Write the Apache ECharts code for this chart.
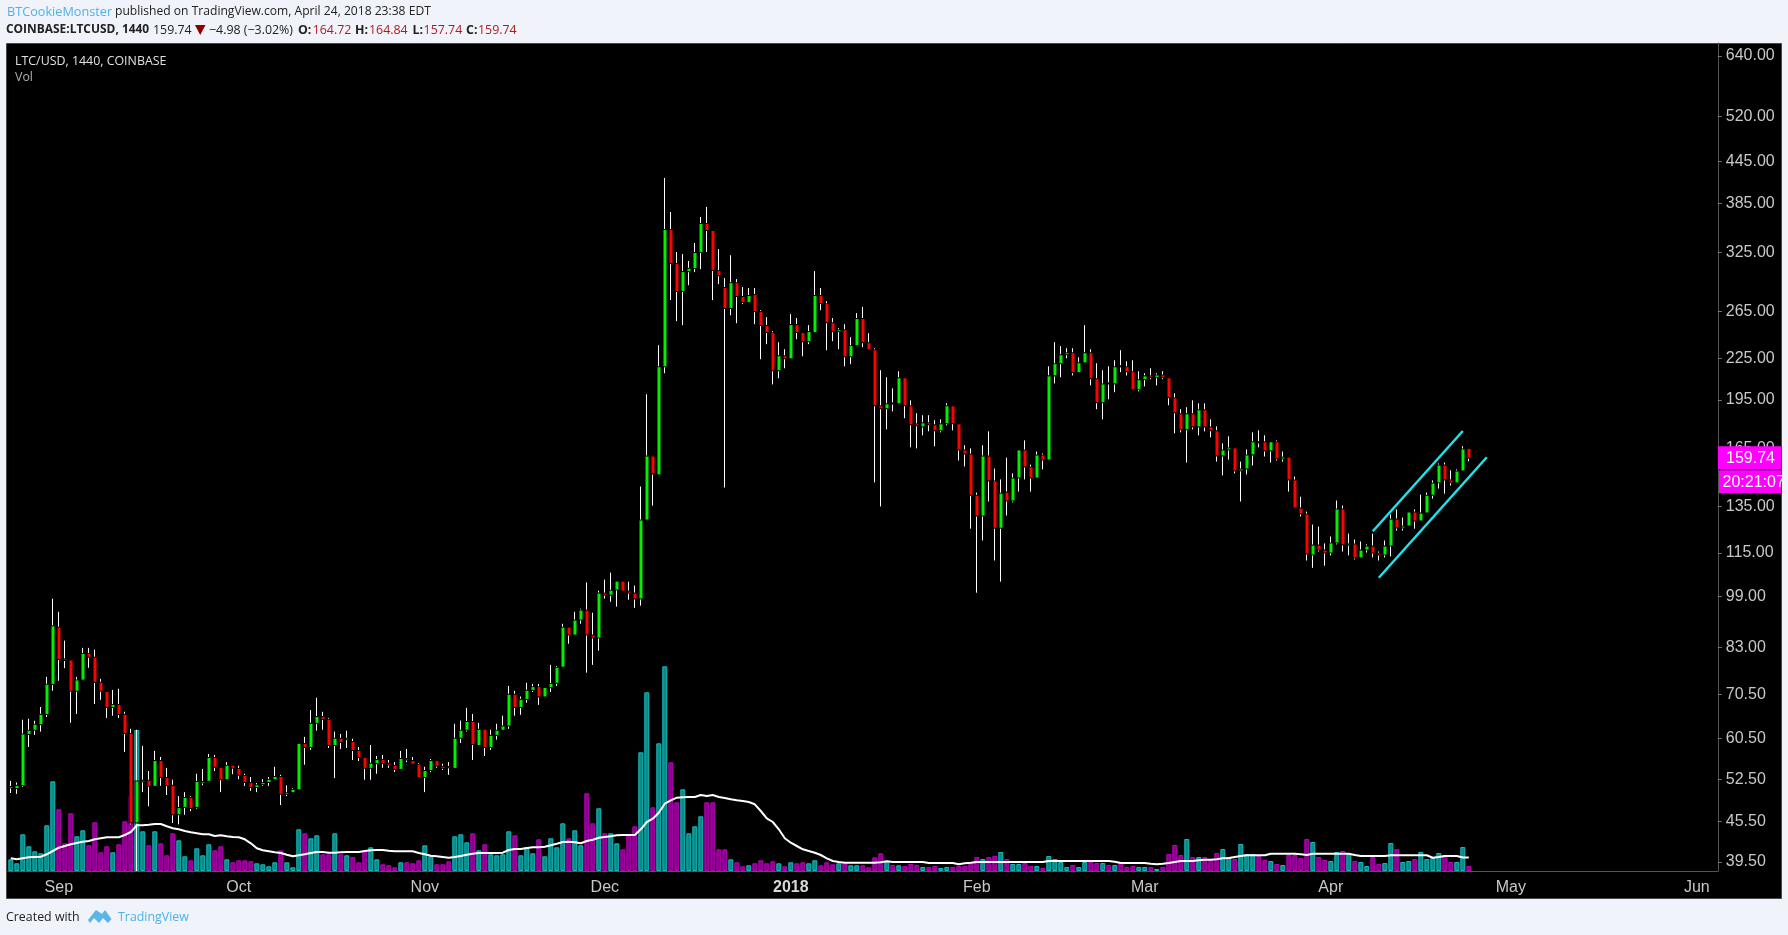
<!DOCTYPE html>
<html><head><meta charset="utf-8">
<style>html,body{margin:0;padding:0;background:#f0f3fa}#c{width:1788px;height:935px}</style>
<script src="https://cdn.jsdelivr.net/npm/echarts@6/dist/echarts.min.js"></script>
</head><body><div id="c"></div>
<script>
// Daily candles, [open, close, low, high], 24 Aug 2017 .. 24 Apr 2018
const ohlc = [
[51.1,51.2,50.15,52.28],[51.0,51.4,50.0,52.0],[51.5,61.4,51.2,64.6],[61.5,62.2,58.8,64.8],[62.4,63.5,61.3,64.35],[63.6,65.7,62.0,67.5],[65.9,72.9,65.2,74.9],[73.1,89.2,71.4,98.1],
[88.8,79.7,73.9,93.8],[79.6,79.4,77.2,84.9],[79.3,71.4,63.9,79.3],[71.4,74.0,65.9,74.9],[74.2,81.1,74.2,82.8],[81.1,80.3,77.3,82.8],[80.0,73.6,68.2,82.3],[73.4,71.4,69.2,74.4],
[71.1,67.5,65.0,71.1],[67.5,68.0,65.5,71.6],[68.0,65.9,65.0,71.9],[65.7,61.7,57.8,66.4],[61.5,45.3,45.0,62.6],[45.3,52.2,38.3,62.4],[52.2,52.3,50.3,59.0],[52.3,51.4,47.9,54.1],
[51.4,56.0,51.4,58.0],[56.0,53.0,51.4,56.8],[52.8,51.5,49.8,54.7],[51.4,46.6,45.2,52.5],[46.6,47.6,45.0,49.6],[47.8,49.3,46.5,50.3],[49.3,47.6,47.1,49.6],[47.8,52.1,47.5,53.6],
[52.0,52.1,51.5,54.5],[52.3,56.6,52.3,57.4],[56.6,54.9,54.1,57.2],[54.7,52.6,50.3,54.7],[52.6,55.1,52.6,55.8],[55.1,54.7,53.5,55.1],[54.5,53.4,52.6,55.1],[53.2,52.1,51.4,53.6],
[51.9,51.2,50.5,53.0],[51.2,51.5,50.3,51.9],[51.7,51.9,51.4,52.6],[52.1,52.5,51.4,53.0],[52.6,53.0,52.6,54.9],[53.0,50.0,48.1,53.4],[50.0,50.1,49.6,51.5],[50.3,50.7,50.3,51.0],
[50.8,59.4,50.8,59.4],[59.4,58.8,55.3,60.9],[58.8,63.7,58.2,66.8],[63.9,65.2,62.2,69.7],[65.2,64.8,62.4,66.4],[64.6,59.2,58.6,65.0],[59.2,60.5,52.8,62.0],[60.5,59.8,58.4,61.5],
[60.4,60.5,58.6,62.2],[59.8,58.2,56.2,60.5],[58.0,56.8,56.0,58.8],[56.6,54.7,52.5,56.6],[54.7,55.5,52.5,59.2],[55.6,56.2,53.6,57.0],[56.2,55.6,54.7,57.2],[55.5,55.3,54.7,56.2],
[55.1,54.5,53.9,55.8],[54.5,56.4,54.5,58.0],[56.4,56.3,55.8,58.4],[56.0,55.5,55.3,56.8],[55.3,53.0,53.0,55.6],[53.0,54.1,50.3,54.9],[54.3,56.0,53.9,56.4],[56.0,55.1,54.7,56.0],
[54.9,54.7,54.3,55.5],[54.9,54.8,53.4,55.8],[54.7,60.5,54.7,63.7],[60.7,62.2,59.6,64.4],[62.4,64.1,62.0,67.3],[64.1,59.4,56.2,65.9],[59.2,62.4,59.2,63.9],[62.4,58.8,57.0,62.4],
[58.8,61.1,58.2,62.4],[61.3,62.2,60.3,63.7],[62.4,63.1,62.4,65.5],[63.3,70.4,62.6,72.6],[70.4,67.5,65.5,71.4],[67.5,69.2,65.7,70.0],[69.4,71.4,68.5,73.4],[71.6,72.3,71.1,73.1],
[72.3,70.0,68.0,73.1],[70.0,72.1,70.0,72.1],[72.3,73.1,71.1,78.1],[73.4,77.3,72.6,77.8],[77.6,88.8,77.6,90.0],[88.8,86.7,84.0,88.8],[86.7,91.0,86.7,93.8],[91.3,94.2,90.0,94.8],
[94.2,86.7,76.0,103.8],[86.4,85.8,78.1,93.5],[85.8,99.9,82.0,100.9],[99.9,99.5,98.2,104.8],[99.5,100.9,97.1,107.4],[101.3,104.1,95.5,104.1],[104.1,100.9,100.9,104.1],[100.6,100.2,97.8,104.1],
[99.9,98.2,95.1,102.7],[98.2,128.6,95.8,144.6],[129.0,160.4,129.0,198.9],[160.4,151.3,135.4,160.4],[150.8,218.4,150.8,235.7],[219.1,350.9,213.9,420.1],[350.9,313.0,275.4,373.5],[311.9,284.1,256.1,325.1],
[284.1,303.4,252.6,322.8],[304.4,306.9,290.0,315.2],[307.6,324.0,303.4,335.5],[325.1,358.4,306.5,367.1],[358.4,350.9,325.1,380.0],[349.7,305.5,275.4,349.7],[304.4,300.2,291.0,328.5],[287.1,268.0,144.1,297.2],
[268.0,292.0,261.4,321.6],[292.0,279.3,254.3,296.1],[278.3,273.5,271.6,288.1],[273.5,279.3,273.5,287.1],[280.2,265.1,253.4,287.1],[264.2,252.6,224.5,266.0],[251.8,246.6,236.5,259.7],[245.7,216.1,205.8,247.4],
[216.1,226.8,210.2,238.1],[226.8,225.2,217.6,232.4],[225.2,252.6,225.2,262.4],[252.6,246.6,240.6,258.8],[245.7,239.0,226.8,245.7],[239.0,246.6,236.5,252.6],[246.6,279.3,246.6,304.4],[279.3,272.6,266.0,287.1],
[271.6,255.2,231.6,274.4],[254.3,247.4,239.0,258.8],[247.4,248.2,232.4,250.0],[248.2,226.8,219.1,253.4],[226.8,234.9,220.7,242.3],[235.7,257.9,235.7,263.3],[257.9,238.1,234.1,269.0],[237.3,232.4,232.4,245.7],
[231.6,191.5,146.7,233.2],[190.8,189.5,135.0,216.1],[189.5,192.1,176.2,211.0],[192.8,192.6,187.5,203.0],[192.8,210.2,192.8,215.4],[210.2,191.5,183.1,210.2],[190.8,179.3,165.6,194.8],[179.3,178.7,165.0,186.3],
[178.0,179.9,172.6,185.0],[179.9,179.3,175.0,185.0],[178.7,175.6,166.2,181.8],[175.6,179.3,174.4,182.4],[179.9,190.8,178.7,192.8],[190.8,179.9,175.6,190.8],[179.3,164.4,158.2,179.3],[163.8,162.1,155.0,166.8],
[161.6,140.6,125.0,165.0],[140.1,130.8,100.2,141.6],[130.8,160.4,120.0,166.8],[160.4,147.7,137.3,175.0],[147.2,125.4,112.0,153.9],[125.4,141.1,104.1,148.2],[141.6,137.8,130.8,159.8],[137.8,148.7,136.9,151.3],
[149.2,163.8,142.1,163.8],[163.8,155.0,148.2,169.6],[154.5,149.2,142.1,156.0],[149.2,161.0,149.2,163.2],[161.0,158.7,153.4,162.1],[158.7,211.6,158.7,219.1],[212.3,220.7,206.5,238.1],[221.4,227.6,211.0,234.9],
[228.4,229.2,225.2,233.2],[229.2,214.7,212.3,233.2],[214.7,221.4,214.7,226.0],[222.1,229.2,222.1,252.6],[229.2,210.2,205.1,232.4],[209.5,193.5,188.9,221.4],[193.5,205.8,182.4,216.1],[206.5,206.4,195.5,219.1],
[206.5,218.4,200.3,223.7],[219.1,219.0,214.7,231.6],[218.4,215.4,212.3,222.9],[214.7,202.3,202.3,223.7],[202.3,208.8,200.9,215.4],[209.5,211.6,204.4,213.9],[211.6,211.0,209.5,217.6],[211.0,212.3,205.1,213.9],
[212.3,211.0,209.5,215.4],[210.2,196.8,191.5,210.2],[196.1,186.9,173.8,199.6],[185.6,176.2,174.4,188.9],[176.2,185.6,157.1,190.2],[185.6,178.0,176.2,194.8],[178.0,188.2,172.6,192.8],[188.2,178.0,175.0,192.8],
[177.4,175.6,171.4,182.4],[175.0,161.0,157.6,178.0],[161.0,163.8,150.3,167.9],[164.4,165.0,158.7,172.0],[165.0,152.9,151.3,165.0],[152.9,153.4,137.3,157.6],[153.9,161.0,150.8,164.4],[161.6,168.5,155.5,174.4],
[168.5,168.4,165.6,175.6],[168.5,163.8,160.4,172.6],[163.8,168.5,157.1,168.5],[168.5,159.3,158.2,169.6],[159.3,159.8,157.6,163.2],[159.8,148.2,142.1,159.8],[147.7,134.5,134.5,149.7],[134.0,131.7,130.4,139.6],
[131.3,114.7,112.0,132.6],[114.3,117.9,109.2,126.8],[117.9,116.3,115.5,125.9],[115.9,115.1,110.0,118.8],[115.1,118.8,114.0,121.7],[119.2,133.6,118.4,137.8],[133.6,118.4,115.5,135.4],[118.3,118.4,114.0,122.9],
[118.4,113.2,112.4,120.4],[113.2,115.9,113.2,119.6],[116.3,117.5,115.1,118.4],[117.5,115.1,113.2,122.9],[114.7,114.3,112.0,115.5],[114.3,117.5,113.2,120.0],[117.9,129.0,113.6,131.3],[129.0,125.5,124.2,133.6],
[125.5,125.9,124.2,129.9],[126.4,132.2,126.4,132.2],[132.2,128.6,125.0,133.6],[128.6,131.7,128.6,140.6],[132.2,140.1,132.2,141.6],[140.6,146.1,138.7,147.7],[146.7,155.5,143.6,156.6],[155.5,148.2,141.1,157.1],
[147.7,146.7,145.1,152.9],[146.7,152.3,146.7,153.4],[152.9,164.4,152.9,166.2],[164.72,159.74,157.74,164.84]
];
// Volume, in units of 10k
const volumes = [
11.7,7.7,36.7,24.7,19.7,17.7,45.7,89.7,61.7,27.7,57.7,34.7,40.7,25.7,48.7,18.7,24.7,18.7,26.7,49.7,
75,141,39.7,25.7,39.7,27.7,15.7,37.7,30.7,14.7,10.7,22.7,15.7,26.7,20.7,24.7,11.7,8.7,10.7,10.7,
9.7,7.7,6.7,4.7,8.7,20.7,8.7,3.7,41.7,37.7,32.7,35.7,16.7,16.7,37.7,16.7,15.7,14,8.7,19.7,
23.7,11.7,6.7,5.7,3.7,8.7,8.7,7.7,10.7,25.7,14.7,6.7,6.7,9.7,34.7,36.7,28.7,37.7,20.7,26.7,
16.7,15.7,16.7,39.7,35.7,15.7,23.7,17.7,31.7,14.7,32.7,23.7,47.7,32.7,40.7,25.7,77.7,47.7,62.7,37.7,
37.7,27.7,21.7,35.7,44.7,118.7,178.7,63.7,127.7,204.7,108.7,68.7,81.7,37.7,44.7,54.7,68.7,68.7,21.7,21.7,
11.7,8.7,4.7,5.7,7.7,10.7,7.7,9.7,7.7,4.7,8.7,7.7,8.7,7.7,10.7,5.7,8.7,6.7,7.7,7.7,
5.7,5.7,5.7,3.7,13.7,17.7,10,6,5.7,5,7,6,4,4,5,3,4,4,5,5,
9,14,12,14,15,19,12,7,7,8,5,5,3,15,12,9,4,6,4,9,
9,8,8,6,6,8,4,5,4,4,4,2,4,17,26,16,32,14,14,14,
11,18,22,14,12,27,17,17,15,11,10,7,6,16,16,13,32,29,14,11,
10,19,20,17,10,9,5,14,7,8,28,22,9,10,12,19,12,13,18,16,
9,9,24,5
];
// Volume moving average, same units
const volumeMA = [
12.7,11.7,12.7,13.7,14,14.3,16.7,20,23.3,25,26.7,28,29.3,30,31.7,32.7,33.7,33.7,33.7,36,
39,45.7,45.7,46.3,47,47,44.7,42.7,41.7,40,38.7,37.7,36.7,36.7,35,35.7,34.7,34,33.7,31.7,
27.7,22.7,20.7,19.7,18.7,18,16.3,14.7,15.7,16.7,18,19,19,18.3,18.3,18.7,19,19,19,20,
20.7,21,21,20.3,19.7,19.7,19.7,19.7,18,16.7,15.3,14.7,14,13.3,14,15,16.3,17.3,18,18,
18,18,18.3,21,22,22,23,23.7,23.7,24.3,25.7,27.3,29,29.3,28.7,27.7,30,31.3,33.3,34,
34.7,35.7,36,36,36,41.7,49,52.3,58.3,67.3,70.7,73.3,73.8,74,74,76,75,76,74,73,
71.7,70.7,70,69,66.7,60,52.7,49,41.7,32.7,28.3,25,21.7,20,18.3,16,12.7,10,9,8.3,
8.3,8.3,8.3,8.3,8.3,8.7,9.7,9,9,9,9,9,9,8,8,8,8,8,6.7,7.7,
8.3,9,9,9,9,9,9,9,9,9,9,9,9,10,10,10,10,10,10,10,
10,10,10,10,9.3,8,8,8,8,8,7.3,6.7,7.3,8,9,10,10,10,10.7,11.3,
11.3,11.7,12.7,13,14,15,15.7,15.7,15.7,15.7,17.3,17.3,17.3,17.3,17.3,16.7,16,17.3,17.3,17.3,
17.3,17.3,17.3,17.3,16,15,15,15,15,15,15.7,15.7,15.7,15.7,15.7,15.7,15.7,13.3,14,15,
15,15,13.5,13.5
];
const priceTicks = [640,520,445,385,325,265,225,195,165,135,115,99,83,70.5,60.5,52.5,45.5,39.5];
const monthTicks = {8:'Sep',38:'Oct',69:'Nov',99:'Dec',130:'2018',161:'Feb',189:'Mar',220:'Apr',250:'May',281:'Jun'};
const dayCount = 285;
// Hand-drawn channel: [candle index, price]
const channelUpper = [[227,123.9],[242,175.2]];
const channelLower = [[228,105.5],[246,160.0]];
const lastPrice = 159.74, countdown = '20:21:07';

const cats = [];
for (let i=0;i<dayCount;i++){const d=new Date(Date.UTC(2017,7,24+i));cats.push(d.toISOString().slice(0,10));}
const bodies = ohlc.map(d=>[d[0],d[1],Math.min(d[0],d[1]),Math.max(d[0],d[1])]);

const TEXT='"Open Sans"', AX='"Liberation Sans"';
const BG='#f0f3fa', FRAME='#4a4a4a', DARK='#222', RED='#b01c1c', BLUE='#4db2e8';
const chart = echarts.init(document.getElementById('c'),null,{renderer:'canvas',width:1788,height:935});
const gridX={left:7.8,width:dayCount*6};
const tickShown=i=>monthTicks[i]!==undefined;
const option={
 animation:false,backgroundColor:BG,
 grid:[Object.assign({top:43,height:828},gridX),Object.assign({top:471,height:400},gridX)],
 xAxis:[
  {type:'category',gridIndex:0,data:cats,boundaryGap:true,
   axisLine:{lineStyle:{color:'#555'}},
   axisTick:{interval:(i)=>tickShown(i),length:3,alignWithLabel:true,lineStyle:{color:'#777'}},
   axisLabel:{interval:(i)=>tickShown(i),margin:9,fontFamily:AX,fontSize:16,color:'#c8c8c8',
     formatter:(v,i)=>monthTicks[i]==='2018'?'{b|2018}':monthTicks[i],
     rich:{b:{fontFamily:AX,fontSize:16,fontWeight:'bold',color:'#d8d8d8'}}}},
  {type:'category',gridIndex:1,data:cats,show:false}
 ],
 yAxis:[
  {type:'log',gridIndex:0,position:'right',min:38.3,max:669.6,logBase:10,splitLine:{show:false},minorTick:{show:false},
   axisLine:{show:true,lineStyle:{color:'#555'}},
   axisTick:{show:true,length:4,customValues:priceTicks,lineStyle:{color:'#777'}},
   axisLabel:{margin:8,padding:[4,0,0,0],customValues:priceTicks,fontFamily:AX,fontSize:16,color:'#c8c8c8',formatter:v=>(+v).toFixed(2)}},
  {type:'value',gridIndex:1,min:0,max:400,show:false,splitLine:{show:false}}
 ],
 series:[
  {name:'Vol',type:'bar',xAxisIndex:1,yAxisIndex:1,z:2,barWidth:5,barGap:0,
   data:volumes.map((v,i)=>{const up=ohlc[i][1]>=ohlc[i][0];return{value:v,itemStyle:{color:up?'#0a8a88':'#8e008e',borderColor:up?'#14bcbc':'#b800b8',borderWidth:1}}})},
  {name:'Vol MA',type:'line',xAxisIndex:1,yAxisIndex:1,z:3,data:volumeMA,showSymbol:false,symbol:'none',lineStyle:{color:'#fff',width:2}},
  {name:'Wicks',type:'candlestick',xAxisIndex:0,yAxisIndex:0,z:4,barWidth:1,data:ohlc,
   itemStyle:{color:'#fff',color0:'#fff',borderColor:'#fff',borderColor0:'#fff',borderWidth:1}},
  {name:'Outline',type:'candlestick',xAxisIndex:0,yAxisIndex:0,z:5,barWidth:3,data:bodies,
   itemStyle:{color:'#000',color0:'#000',borderColor:'#000',borderColor0:'#000',borderWidth:2}},
  {name:'LTC/USD',type:'candlestick',xAxisIndex:0,yAxisIndex:0,z:6,barWidth:3,data:bodies,
   itemStyle:{color:'#00f000',color0:'#ff0000',borderColor:'#00f000',borderColor0:'#ff0000',borderWidth:0}},
  {name:'Channel top',type:'line',xAxisIndex:0,yAxisIndex:0,z:7,data:channelUpper,showSymbol:false,symbol:'none',lineStyle:{color:'#1fe3ea',width:2.5}},
  {name:'Channel bottom',type:'line',xAxisIndex:0,yAxisIndex:0,z:7,data:channelLower,showSymbol:false,symbol:'none',lineStyle:{color:'#1fe3ea',width:2.5}}
 ]
};
chart.setOption(option);
const yLast=chart.convertToPixel({yAxisIndex:0},lastPrice);
const t=(text,x,y,fill,bold,size)=>({type:'text',z:20,x,y,silent:true,style:{text,fill,font:(bold?'bold ':'')+(size||12.4)+'px '+TEXT,verticalAlign:'middle',textAlign:'left'}});
chart.setOption({graphic:{elements:[
 {type:'rect',z:-5,silent:true,shape:{x:6.5,y:43.5,width:1775,height:855},style:{fill:'#000',stroke:FRAME,lineWidth:1}},
 t('BTCookieMonster',7,12,BLUE,false,12.7), t('published on TradingView.com, April 24, 2018 23:38 EDT',115,12,DARK,false,12.1),
 t('COINBASE:LTCUSD, 1440',6,30,DARK,true,11.95), t('159.74',153,30,DARK),
 {type:'polygon',z:20,shape:{points:[[195,25],[205.5,25],[200.2,35]]},style:{fill:'#8b0000'}},
 t('\u22124.98 (\u22123.02%)',209,30,DARK),
 t('O:',298,30,DARK,true),t('164.72',312.7,30,RED),
 t('H:',355,30,DARK,true),t('164.84',369,30,RED),
 t('L:',412.5,30,DARK,true),t('157.74',423.6,30,RED),
 t('C:',466,30,DARK,true),t('159.74',478,30,RED),
 t('LTC/USD, 1440, COINBASE',15,61,'#e0e0e0'),
 t('Vol',15,77,'#b0b0b0'),
 {type:'rect',z:30,shape:{x:1718,y:yLast-11.5,width:63,height:23},style:{fill:'#ff00ff'}},
 {type:'text',z:31,x:1726,y:yLast+0.5,style:{text:lastPrice.toFixed(2),font:'16px '+AX,fill:'#fff',verticalAlign:'middle'}},
 {type:'rect',z:30,shape:{x:1719,y:yLast+12.5,width:62,height:23},style:{fill:'#ff00ff'}},
 {type:'text',z:31,x:1722.5,y:yLast+24.5,style:{text:countdown,font:'16px '+AX,fill:'#fff',verticalAlign:'middle'}},
 {type:'rect',z:32,shape:{x:1782,y:yLast-12,width:6,height:50},style:{fill:BG}},
 t('Created with',6,917.5,DARK),
 {type:'polygon',z:20,shape:{points:[[88,920],[96,910],[102,914],[105,910],[111.5,919],[108,923],[103,918],[99,923],[94,918],[90,923]]},style:{fill:'#5ab6e8'}},
 t('TradingView',118,917.5,BLUE)
]}});
</script></body></html>
